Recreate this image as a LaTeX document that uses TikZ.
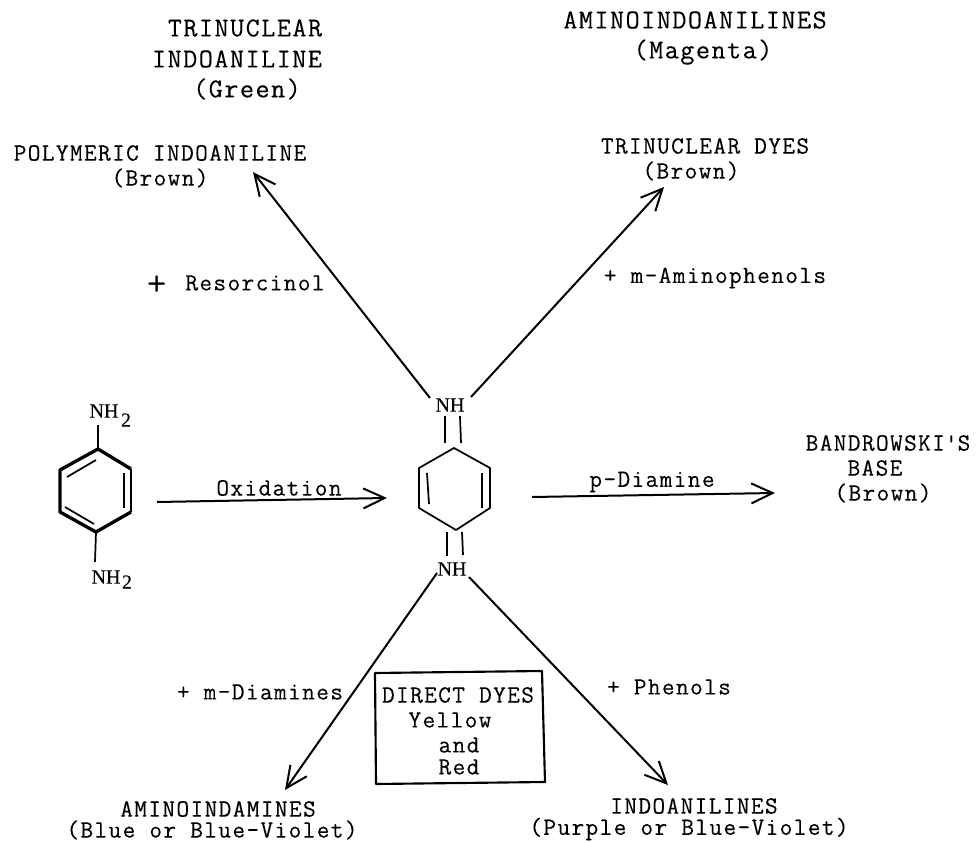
\documentclass[tikz,border=0pt]{standalone}
\usepackage{fontspec}
\newfontfamily\chemfont[FakeBold=0.12]{Liberation Serif}
\newfontfamily\typer[LetterSpace=5.5,FakeBold=0.18]{Latin Modern Mono}
\usetikzlibrary{arrows.meta}
\tikzset{
 x=0.75pt,y=-0.75pt,
 lbl/.style={inner sep=0pt,font=\typer\fontsize{18.5pt}{22pt}\selectfont},
 big/.style={inner sep=0pt,font=\typer\fontsize{20.5pt}{24pt}\selectfont},
 chem/.style={inner sep=0pt,font=\chemfont\fontsize{15pt}{18pt}\selectfont},
 arr/.style={line width=1.5pt,-{Straight Barb[length=16pt,width=15pt,line width=1.5pt]}},
 bond/.style={line width=1.3pt},
 heavy/.style={line width=2.5pt,line join=round},
 panel/.style={line width=1.6pt,line join=round},
}
\begin{document}
\begin{tikzpicture}
\useasboundingbox (0,0) rectangle (976,842);
\fill[white] (0,0) rectangle (976,842);
% headers
\node[big] (t1) at (245,28) {TRINUCLEAR};
\node[big] (t2) at (237,59) {INDOANILINE};
\node[big] (t3) at (247,89) {(Green)};
\node[big] (a1) at (695,20) {AMINOINDOANILINES};
\node[big] (a2) at (703,52) {(Magenta)};
\node[lbl] (p1) at (160,153) {POLYMERIC INDOANILINE};
\node[lbl] (p2) at (160,178) {(Brown)};
\node[lbl] (d1) at (705,146) {TRINUCLEAR DYES};
\node[lbl] (d2) at (691,171) {(Brown)};
\node[inner sep=0pt,font=\ttfamily\fontsize{28pt}{30pt}\selectfont] (rp) at (157,286) {+};
\node[lbl] (r) at (255,283) {Resorcinol};
\node[lbl] (m) at (715,278) {+ m-Aminophenols};
\node[lbl] (b1) at (888,443) {BANDROWSKI\textquotesingle S};
\node[lbl] (b2) at (875,468) {BASE};
\node[lbl] (b3) at (883,493) {(Brown)};
\node[lbl] (ox) at (279,488) {Oxidation};
\node[lbl] (pd) at (652,482) {p-Diamine};
\node[lbl] (md) at (260,692) {+ m-Diamines};
\node[lbl] (ph) at (669,687) {+ Phenols};
\node[lbl] (ai1) at (218,809) {AMINOINDAMINES};
\node[lbl] (ai2) at (212,830) {(Blue or Blue-Violet)};
\node[lbl] (in1) at (694,806) {INDOANILINES};
\node[lbl] (in2) at (689,829) {(Purple or Blue-Violet)};
% box
\draw[panel] (375,673) -- (542,671) -- (545,782) -- (376,784) -- cycle;
\node[lbl] (dd) at (458,695) {DIRECT DYES};
\node[lbl] (dy) at (450,720) {Yellow};
\node[lbl] (da) at (459,745) {and};
\node[lbl] (dr) at (459,767) {Red};
% left ring
\coordinate (L1) at (98,449); \coordinate (L2) at (131,469); \coordinate (L3) at (131,512);
\coordinate (L4) at (96,532); \coordinate (L5) at (60,512); \coordinate (L6) at (60,470);
\draw[heavy] (L3) -- (L4) -- (L5) -- (L6) -- (L1) -- (L2);
\draw[line width=1.8pt] (L2) -- (L3);
\draw[bond] (67,477) -- (96,460);
\draw[bond] (124,473) -- (124,508);
\draw[bond] (65,507) -- (94,524);
\node[chem] (n1) at (104,411) {NH};
\node[chem] (n1s) at (126,420) {2};
\node[chem] (n2) at (106,577) {NH};
\node[chem] (n2s) at (127,582) {2};
\coordinate (n1b) at (98,425);
\coordinate (n2t) at (95,562);
\draw[bond] (n1b) -- (L1);
\draw[bond] (L4) -- (n2t);
% right ring
\coordinate (R1) at (454,448); \coordinate (R2) at (490,468); \coordinate (R3) at (490,508);
\coordinate (R4) at (456,530); \coordinate (R5) at (419,508); \coordinate (R6) at (419,468);
\draw[bond,line join=round] (R1) -- (R2) -- (R3) -- (R4) -- (R5) -- (R6) -- cycle;
\draw[bond] (427,473) -- (429,504);
\draw[bond] (482,473) -- (482,508);
\node[chem] (nt) at (450,405) {NH};
\node[chem] (nb) at (452,569) {NH};
\draw[bond] (445,416) -- (445,443);
\draw[bond] (460,416) -- (461,443);
\draw[bond] (447,532) -- (447,556);
\draw[bond] (462,532) -- (463,555);
% arrows
\coordinate (ox0) at (157,502); \coordinate (ox1) at (387,498);
\coordinate (pd0) at (532,497); \coordinate (pd1) at (775,493);
\coordinate (ntl) at (430,398); \coordinate (pe) at (253,172);
\coordinate (ntr) at (471,397); \coordinate (de) at (664,187);
\coordinate (nbl) at (437,573); \coordinate (ae) at (285,790);
\coordinate (nbr) at (469,577); \coordinate (ie) at (668,785);
\draw[arr] (ox0) -- (ox1);
\draw[arr] (pd0) -- (pd1);
\draw[arr] (ntl) -- (pe);
\draw[arr] (ntr) -- (de);
\draw[arr] (nbl) -- (ae);
\draw[arr] (nbr) -- (ie);
\end{tikzpicture}
\end{document}
